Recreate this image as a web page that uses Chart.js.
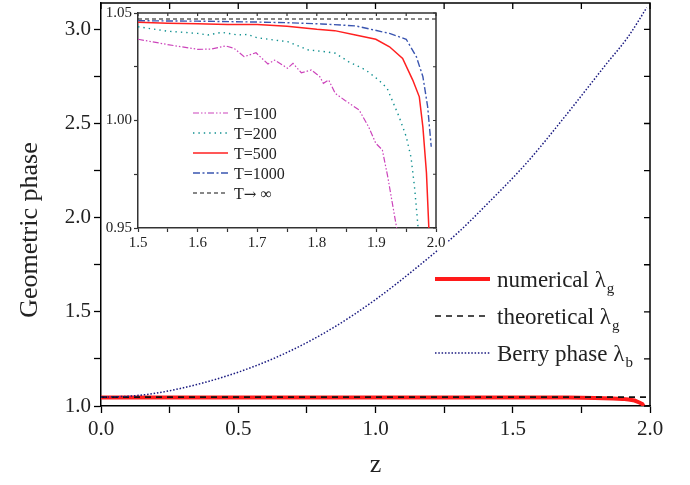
<!DOCTYPE html>
<html>
<head>
<meta charset="utf-8">
<script src="https://cdn.jsdelivr.net/npm/chart.js@4"></script>
<style>
  body { margin: 0; background: #fff; }
  #wrap { position: relative; width: 690px; height: 485px; }
  #main { position: absolute; left: 0; top: 0; }
  #inset { position: absolute; left: 103px; top: 3px; }
</style>
</head>
<body>
<div id="wrap">
  <canvas id="main" width="690" height="485"></canvas>
  <canvas id="inset" width="345" height="247"></canvas>
</div>
<script>
// main plot data
const numZ = [0, 0.5, 1.0, 1.5, 1.7, 1.8, 1.865, 1.9, 1.922, 1.944, 1.961, 1.972, 1.978, 1.984, 1.988];
const numVal = [1.0457, 1.0457, 1.0457, 1.0457, 1.0446, 1.0424, 1.0398, 1.0378, 1.0343, 1.0289, 1.0188, 1.011, 0.997, 0.9756, 0.95];
const theoZ = [0, 2.0];
const theoVal = [1.0472, 1.0472];
const berryZ = [0, 0.1, 0.2, 0.37, 0.552, 0.7, 0.844, 1.0, 1.161, 1.3, 1.405, 1.55, 1.684, 1.842, 1.92, 1.988];
const berryVal = [1.047, 1.052, 1.068, 1.122, 1.207, 1.30, 1.414, 1.565, 1.748, 1.92, 2.07, 2.29, 2.526, 2.818, 2.96, 3.115];
const mainNames = ["numerical λ", "theoretical λ", "Berry phase λ"];
const mainSubs = ["g", "g", "b"];
const yTitle = "Geometric phase";

// inset data
const t100Z = [1.5, 1.548, 1.6, 1.622, 1.647, 1.661, 1.678, 1.698, 1.718, 1.729, 1.751, 1.76, 1.774, 1.791, 1.805, 1.811, 1.82, 1.831, 1.848, 1.871, 1.887, 1.899, 1.91, 1.919, 1.934];
const t100Val = [1.0378, 1.0354, 1.0331, 1.0332, 1.0347, 1.0336, 1.0297, 1.0315, 1.0263, 1.0281, 1.0243, 1.0266, 1.0222, 1.0235, 1.0204, 1.0173, 1.0188, 1.0126, 1.0092, 1.0049, 0.997, 0.9894, 0.9863, 0.9739, 0.95];
const t200Z = [1.5, 1.548, 1.6, 1.617, 1.641, 1.667, 1.684, 1.70, 1.729, 1.751, 1.786, 1.808, 1.831, 1.853, 1.882, 1.904, 1.918, 1.938, 1.95, 1.958, 1.964, 1.97];
const t200Val = [1.0436, 1.0416, 1.0405, 1.0398, 1.041, 1.0398, 1.040, 1.0385, 1.0374, 1.0367, 1.0328, 1.0322, 1.0313, 1.0274, 1.0235, 1.0188, 1.015, 1.0018, 0.9925, 0.983, 0.969, 0.95];
const t500Z = [1.5, 1.55, 1.6, 1.65, 1.7, 1.75, 1.8, 1.83, 1.865, 1.899, 1.922, 1.944, 1.961, 1.972, 1.978, 1.984, 1.988];
const t500Val = [1.0457, 1.0452, 1.045, 1.0447, 1.0446, 1.0438, 1.0424, 1.0418, 1.0398, 1.0378, 1.0343, 1.0289, 1.0188, 1.011, 0.997, 0.9756, 0.95];
const t1000Z = [1.5, 1.6, 1.7, 1.75, 1.808, 1.865, 1.922, 1.95, 1.967, 1.978, 1.986, 1.992];
const t1000Val = [1.0464, 1.0462, 1.0458, 1.0455, 1.0449, 1.044, 1.0405, 1.0378, 1.0297, 1.0204, 1.0064, 0.9878];
const tInfZ = [1.5, 2.0];
const tInfVal = [1.0472, 1.0472];
const insetNames = ["T=100", "T=200", "T=500", "T=1000", "T→ ∞"];

Chart.defaults.font.family = "'Liberation Serif', 'Times New Roman', serif";
Chart.defaults.color = "#222";

function pts(xs, ys) {
    return xs.map((x, i) => ({ x: x, y: ys[i] }));
}

// y axis fits: fixed width, no extra top/bottom padding for labels
function fixY(width) {
    return s => {
        s.width = width;
        s.paddingTop = 0;
        s.paddingBottom = 0;
    };
}

// white panel behind the inset, starting a few px down so the main top ticks show
const panelPlugin = {
    id: "panel",
    beforeDraw(chart, args, o) {
        const ctx = chart.ctx;
        ctx.save();
        ctx.fillStyle = "#fff";
        ctx.fillRect(0, o.top, chart.width, chart.height - o.top);
        ctx.restore();
    }
};

// top and right frame with inward ticks
const framePlugin = {
    id: "frame",
    afterDatasetsDraw(chart, args, opts) {
        const { ctx, chartArea: a, scales } = chart;
        ctx.save();
        ctx.strokeStyle = opts.color;
        ctx.lineWidth = opts.width;
        ctx.beginPath();
        ctx.moveTo(a.left, a.top);
        ctx.lineTo(a.right, a.top);
        ctx.lineTo(a.right, a.bottom);
        ctx.stroke();
        ctx.lineWidth = opts.tickWidth;
        ctx.beginPath();
        scales.x.ticks.forEach(t => {
            const px = scales.x.getPixelForValue(t.value);
            ctx.moveTo(px, a.top);
            ctx.lineTo(px, a.top + opts.tick);
        });
        scales.y.ticks.forEach(t => {
            const py = scales.y.getPixelForValue(t.value);
            ctx.moveTo(a.right, py);
            ctx.lineTo(a.right - opts.tick, py);
        });
        ctx.stroke();
        ctx.restore();
    }
};

// legend with line samples and subscripts; the arrow gets a wider font
const lineLegend = {
    id: "lineLegend",
    afterDraw(chart, args, o) {
        const ctx = chart.ctx;
        ctx.save();
        chart.data.datasets.forEach((ds, i) => {
            const y = o.rows[i];
            ctx.strokeStyle = ds.borderColor;
            ctx.lineWidth = ds.borderWidth;
            ctx.setLineDash(ds.borderDash || []);
            ctx.beginPath();
            ctx.moveTo(o.x0, y);
            ctx.lineTo(o.x1, y);
            ctx.stroke();
            ctx.setLineDash([]);
            ctx.fillStyle = "#222";
            ctx.textBaseline = "alphabetic";
            let x = o.textX;
            ds.label.split(/(→)/).forEach(part => {
                if (!part) return;
                ctx.font = part === "→"
                    ? (o.size * 0.95) + "px 'DejaVu Serif'"
                    : o.size + "px 'Liberation Serif'";
                ctx.fillText(part, x, y + o.base);
                x += ctx.measureText(part).width;
            });
            if (ds.sub) {
                ctx.font = o.subSize + "px 'Liberation Serif'";
                ctx.fillText(ds.sub, x + 1, y + o.base + o.subDrop);
            }
        });
        ctx.restore();
    }
};

// rotated y title, placed by hand
const yTitlePlugin = {
    id: "yTitleText",
    afterDraw(chart, args, o) {
        const ctx = chart.ctx;
        ctx.save();
        ctx.translate(o.x, o.y);
        ctx.rotate(-Math.PI / 2);
        ctx.font = o.size + "px 'Liberation Serif'";
        ctx.fillStyle = "#222";
        ctx.textAlign = "center";
        ctx.textBaseline = "middle";
        ctx.fillText(o.text, 0, 0);
        ctx.restore();
    }
};

new Chart(document.getElementById("main"), {
    type: "line",
    data: {
        datasets: [
            { label: mainNames[0], sub: mainSubs[0], data: pts(numZ, numVal), borderColor: "#ff1a1a", borderWidth: 4, order: 2 },
            { label: mainNames[1], sub: mainSubs[1], data: pts(theoZ, theoVal), borderColor: "#111", borderWidth: 1.6, borderDash: [6, 5], order: 1 },
            { label: mainNames[2], sub: mainSubs[2], data: pts(berryZ, berryVal), borderColor: "#1a1a80", borderWidth: 1.5, borderDash: [1.5, 1.8], cubicInterpolationMode: "monotone", order: 0 }
        ]
    },
    options: {
        responsive: false,
        animation: false,
        devicePixelRatio: 1,
        elements: { point: { radius: 0 }, line: { tension: 0 } },
        layout: { padding: { left: 0, top: 3, right: 40, bottom: 0 } },
        plugins: {
            legend: { display: false },
            tooltip: { enabled: false },
            frame: { color: "#000", width: 1.5, tickWidth: 1.3, tick: 6 },
            lineLegend: { x0: 435, x1: 490, textX: 497, rows: [279, 316, 353], size: 23, subSize: 15, base: 8, subDrop: 6 },
            yTitleText: { text: yTitle, x: 30, y: 230, size: 26 }
        },
        scales: {
            x: {
                type: "linear", min: 0, max: 2,
                ticks: {
                    stepSize: 0.25, autoSkip: false, maxRotation: 0, padding: 4,
                    font: { size: 21 },
                    callback: v => (Math.round(v * 4) % 2 === 0 ? v.toFixed(1) : "")
                },
                grid: { drawOnChartArea: false, tickLength: 7, tickColor: "#000", tickWidth: 1.3 },
                border: { color: "#000", width: 1.5 },
                title: { display: true, text: "z", font: { size: 26 }, padding: { top: 10 } },
                afterFit: s => { s.height = 79; }
            },
            y: {
                min: 1.0, max: 3.14,
                ticks: {
                    stepSize: 0.25, padding: 3,
                    font: { size: 21 },
                    callback: v => (Math.round(v * 4) % 2 === 0 ? v.toFixed(1) : "")
                },
                afterBuildTicks: s => { s.ticks = s.ticks.filter(t => Math.abs(t.value * 4 - Math.round(t.value * 4)) < 1e-6); },
                grid: { drawOnChartArea: false, tickLength: 7, tickColor: "#000", tickWidth: 1.3 },
                border: { color: "#000", width: 1.5 },
                afterFit: fixY(101)
            }
        }
    },
    plugins: [framePlugin, lineLegend, yTitlePlugin]
});

new Chart(document.getElementById("inset"), {
    type: "line",
    data: {
        datasets: [
            { label: insetNames[0], data: pts(t100Z, t100Val), borderColor: "#cc44bb", borderWidth: 1.2, borderDash: [6, 2, 1.5, 2, 1.5, 2] },
            { label: insetNames[1], data: pts(t200Z, t200Val), borderColor: "#109090", borderWidth: 1.4, borderDash: [1.4, 4] },
            { label: insetNames[2], data: pts(t500Z, t500Val), borderColor: "#ff2020", borderWidth: 1.5 },
            { label: insetNames[3], data: pts(t1000Z, t1000Val), borderColor: "#3a55b0", borderWidth: 1.4, borderDash: [7, 2.5, 2, 2.5] },
            { label: insetNames[4], data: pts(tInfZ, tInfVal), borderColor: "#111", borderWidth: 1.2, borderDash: [4, 3] }
        ]
    },
    options: {
        responsive: false,
        animation: false,
        devicePixelRatio: 1,
        elements: { point: { radius: 0 }, line: { tension: 0 } },
        layout: { padding: { left: 0, top: 10, right: 12, bottom: 0 } },
        plugins: {
            legend: { display: false },
            tooltip: { enabled: false },
            panel: { top: 6 },
            frame: { color: "#333", width: 1.5, tickWidth: 1.2, tick: 3 },
            lineLegend: { x0: 90, x1: 125, textX: 131, rows: [110, 130, 150, 170, 190], size: 16, subSize: 11, base: 6, subDrop: 4 }
        },
        scales: {
            x: {
                type: "linear", min: 1.5, max: 2.0,
                ticks: {
                    stepSize: 0.05, autoSkip: false, maxRotation: 0, padding: 2,
                    font: { size: 15 },
                    callback: v => (Math.round(v * 20) % 2 === 0 ? v.toFixed(1) : "")
                },
                grid: { drawOnChartArea: false, tickLength: 4, tickColor: "#333", tickWidth: 1.2 },
                border: { color: "#333", width: 1.5 },
                afterFit: s => { s.height = 22; }
            },
            y: {
                min: 0.95, max: 1.05,
                ticks: {
                    stepSize: 0.025, padding: 2,
                    font: { size: 15 },
                    callback: v => (Math.round(v * 40) % 2 === 0 ? v.toFixed(2) : "")
                },
                grid: { drawOnChartArea: false, tickLength: 4, tickColor: "#333", tickWidth: 1.2 },
                border: { color: "#333", width: 1.5 },
                afterFit: fixY(35)
            }
        }
    },
    plugins: [panelPlugin, framePlugin, lineLegend]
});
</script>
</body>
</html>
